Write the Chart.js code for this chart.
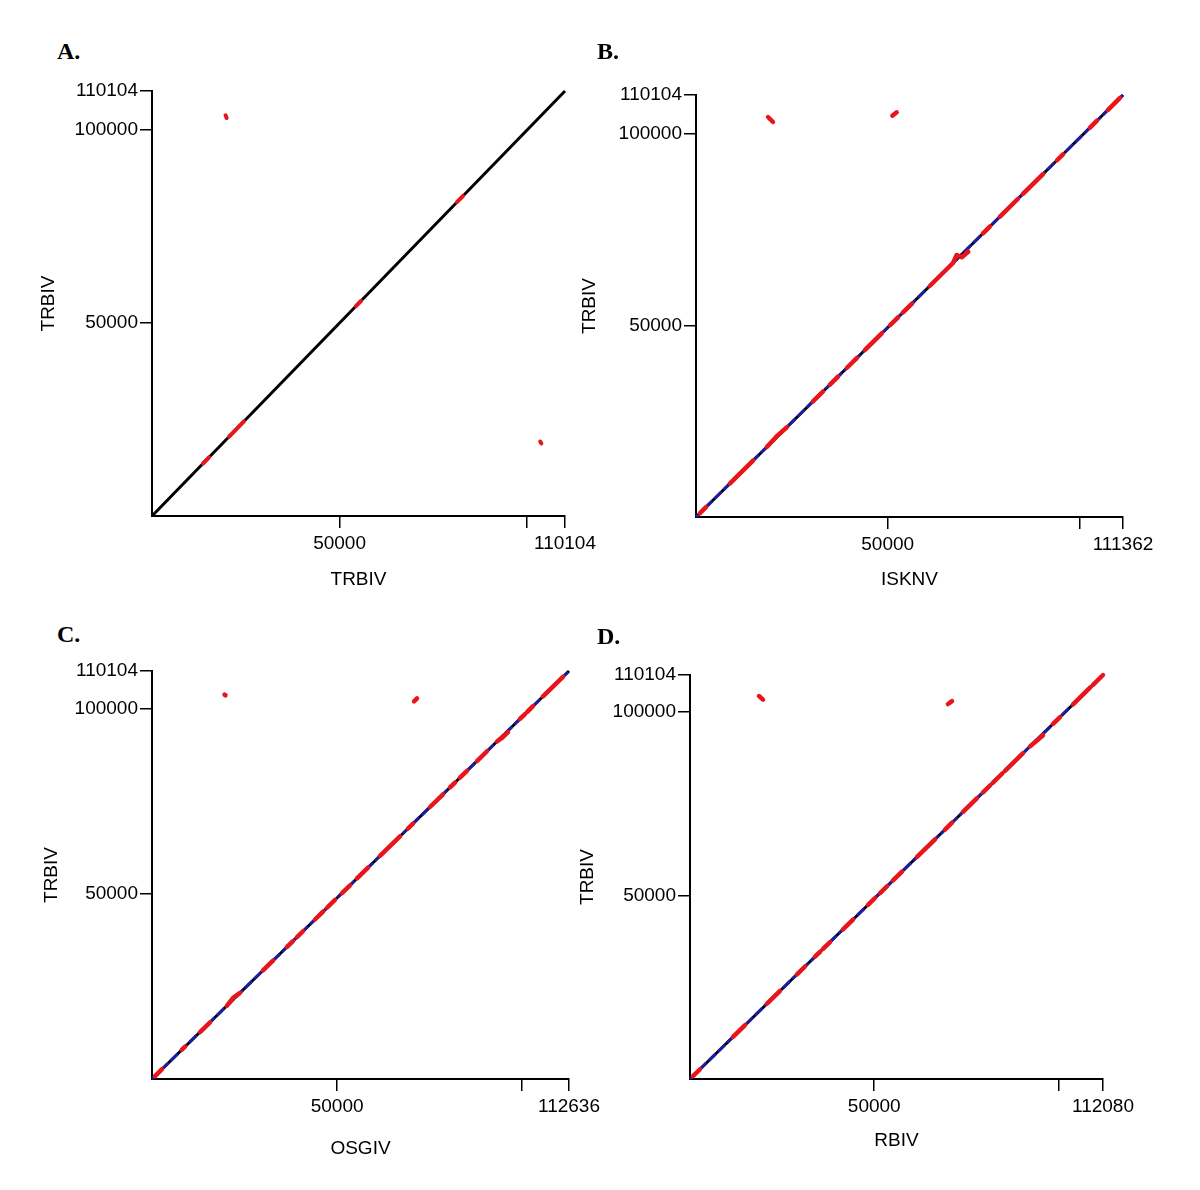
<!DOCTYPE html>
<html>
<head>
<meta charset="utf-8">
<script src="https://cdn.jsdelivr.net/npm/chart.js@4/dist/chart.umd.min.js"></script>
<style>
  html, body { margin:0; padding:0; background:#fff; }
  #root { position:relative; width:1200px; height:1190px; overflow:hidden; }
  canvas { position:absolute; }
  .lbl { position:absolute; font-family:"Liberation Serif","Times New Roman",serif; font-weight:bold; font-size:24px; line-height:24px; color:#000; }
</style>
</head>
<body>
<div id="root"></div>
<script>
// ---------------- data ----------------
const panelIds = ['A.', 'B.', 'C.', 'D.'];
const yName = 'TRBIV';
const xNames = ['TRBIV', 'ISKNV', 'OSGIV', 'RBIV'];
const yMax = 110104;
const xMaxes = [110104, 111362, 112636, 112080];
const yTickValues = [50000, 100000, 110104];
const yTickLabels = ['50000', '100000', '110104'];
const xTickValuesA = [50000, 100000, 110104];
const xTickValuesB = [50000, 100000, 111362];
const xTickValuesC = [50000, 100000, 112636];
const xTickValuesD = [50000, 100000, 112080];
const xTickLabelsA = ['50000', '', '110104'];
const xTickLabelsB = ['50000', '', '111362'];
const xTickLabelsC = ['50000', '', '112636'];
const xTickLabelsD = ['50000', '', '112080'];

// red matching segments (polylines of [x, y])
const redA = [
  [[13600,13600],[15200,15200]],
  [[20500,20500],[24500,24500]],
  [[54400,54400],[55700,55700]],
  [[81300,81300],[82900,82900]],
  [[19600,103800],[19900,103100]],
  [[103500,19300],[103800,18800]]
];
const redB = [
  [[1040,1030],[2600,2570]],
  [[8870,8770],[14870,14700]],
  [[18520,18310],[21000,21000],[23730,23460]],
  [[30510,30170],[33120,32750]],
  [[34950,34550],[37030,36610]],
  [[39380,38940],[41990,41510]],
  [[44080,43580],[48510,47960]],
  [[50600,50030],[52680,52090]],
  [[53990,53380],[56330,55690]],
  [[61030,60340],[67030,66270],[68000,68360],[69300,67760],[71000,69220]],
  [[74850,74000],[76680,75810]],
  [[79280,78380],[83980,83030]],
  [[85280,84320],[90500,89480]],
  [[94150,93080],[95710,94630]],
  [[102760,101600],[104580,103400]],
  [[107450,106230],[110580,109330]],
  [[18780,104360],[20080,103060]],
  [[51200,104700],[52340,105590]]
];
const redC = [
  [[810,790],[2700,2640]],
  [[8100,7920],[8910,8710]],
  [[12960,12670],[15670,15310]],
  [[20260,19800],[21900,21900],[23770,23230]],
  [[29980,29310],[32680,31950]],
  [[36460,35640],[38080,37220]],
  [[39160,38280],[40780,39870]],
  [[44030,43040],[46190,45150]],
  [[47270,46210],[49430,48320]],
  [[51320,50170],[53480,52280]],
  [[55370,54120],[58340,57030]],
  [[61580,60200],[66980,65480]],
  [[69150,67600],[70500,68910]],
  [[75090,73400],[78600,76830]],
  [[80490,78680],[81840,80000]],
  [[83190,81320],[85080,83170]],
  [[87780,85810],[90480,88450]],
  [[93180,91080],[94700,92200],[96160,93600]],
  [[99400,97170],[100750,98480]],
  [[101290,99010],[102910,100600]],
  [[105610,103230],[111010,108510]],
  [[19600,103700],[19850,103550]],
  [[70770,101890],[71580,102700]]
];
const redD = [
  [[810,800],[2710,2660]],
  [[11670,11460],[14930,14670]],
  [[20900,20530],[24430,24000]],
  [[29040,28530],[31210,30660]],
  [[33930,33330],[35280,34660]],
  [[36100,35460],[38000,37330]],
  [[41520,40790],[44240,43460]],
  [[48310,47460],[50210,49330]],
  [[51570,50660],[53470,52530]],
  [[55090,54120],[57540,56530]],
  [[61610,60530],[66490,65320]],
  [[69210,67990],[71110,69860]],
  [[74090,72790],[77890,76520]],
  [[79520,78120],[81420,79990]],
  [[82230,80780],[84680,83190]],
  [[85490,83990],[90380,88790]],
  [[92280,90650],[94000,92100],[95800,93700]],
  [[98520,96790],[100420,98650]],
  [[103950,102120],[108560,106650]],
  [[109370,107440],[112080,110100]],
  [[18730,104370],[19810,103410]],
  [[70020,102190],[71110,103000]]
];

// ---------------- layout (pixels) ----------------
const layouts = [
  { area:{L:152,T:91,R:565,B:516},  yTitleX:49,  xTitleY:580,  letter:{x:57,y:39},  dashed:false, redW:4 },
  { area:{L:696,T:95,R:1123,B:517}, yTitleX:590, xTitleY:580,  letter:{x:597,y:39}, dashed:true,  redW:4.5 },
  { area:{L:152,T:671,R:569,B:1079},yTitleX:52,  xTitleY:1149, letter:{x:57,y:622}, dashed:true,  redW:4.5 },
  { area:{L:690,T:675,R:1103,B:1079},yTitleX:588,xTitleY:1141, letter:{x:597,y:624},dashed:true,  redW:4.5 }
];
const xTickValues = [xTickValuesA, xTickValuesB, xTickValuesC, xTickValuesD];
const xTickLabels = [xTickLabelsA, xTickLabelsB, xTickLabelsC, xTickLabelsD];
const reds = [redA, redB, redC, redD];

const FONT = { family: '"Liberation Sans", Arial, sans-serif', size: 19 };
const LH = 19 * 1.2;
const root = document.getElementById('root');

function toGapData(polys) {
  const out = [];
  polys.forEach(p => {
    p.forEach(pt => out.push({ x: pt[0], y: pt[1] }));
    out.push({ x: p[p.length - 1][0], y: null });
  });
  return out;
}

layouts.forEach((lay, i) => {
  const a = lay.area;
  const cl = a.L - 130, ct = a.T - 80;
  const cw = a.R - cl + 50, ch = lay.xTitleY + 20 - ct;

  const lbl = document.createElement('div');
  lbl.className = 'lbl';
  lbl.style.left = lay.letter.x + 'px';
  lbl.style.top = lay.letter.y + 'px';
  lbl.textContent = panelIds[i];
  root.appendChild(lbl);

  const cv = document.createElement('canvas');
  cv.width = cw; cv.height = ch;
  cv.style.left = cl + 'px'; cv.style.top = ct + 'px';
  cv.style.width = cw + 'px'; cv.style.height = ch + 'px';
  root.appendChild(cv);

  const xMax = xMaxes[i];
  const diag = [{ x: 0, y: 0 }, { x: xMax, y: yMax }];
  const datasets = [
    { data: toGapData(reds[i]), showLine: true, borderColor: '#e8151b', borderWidth: lay.redW,
      borderCapStyle: 'round', borderJoinStyle: 'round', pointRadius: 0, spanGaps: false, clip: false }
  ];
  if (lay.dashed) {
    datasets.push({ data: diag, showLine: true, borderColor: '#1c1ca6', borderWidth: 3,
      borderDash: [10, 3], pointRadius: 0, clip: false });
  }
  datasets.push({ data: diag, showLine: true, borderColor: '#000000', borderWidth: 3,
    pointRadius: 0, clip: false });

  const xt = xTickValues[i], xl = xTickLabels[i];
  new Chart(cv, {
    type: 'scatter',
    data: { datasets },
    options: {
      responsive: false,
      animation: false,
      events: [],
      layout: { padding: { left: 0, top: a.T - ct, right: cl + cw - a.R, bottom: 0 } },
      plugins: { legend: { display: false }, tooltip: { enabled: false } },
      scales: {
        x: {
          type: 'linear', min: 0, max: xMax,
          afterFit: s => { s.height = ct + ch - a.B; },
          afterBuildTicks: s => { s.ticks = xt.map(v => ({ value: v })); },
          border: { display: true, color: '#000', width: 2 },
          grid: { display: true, drawOnChartArea: false, drawTicks: true, tickLength: 12, color: '#000', lineWidth: 1.5 },
          ticks: { autoSkip: false, maxRotation: 0, minRotation: 0, padding: 4, color: '#000', font: FONT,
                   callback: (v, idx) => xl[idx] },
          title: { display: true, text: xNames[i], color: '#000', font: FONT,
                   padding: { top: 0, bottom: 20 - LH / 2 } }
        },
        y: {
          type: 'linear', min: 0, max: yMax,
          afterFit: s => { s.width = a.L - cl; },
          afterBuildTicks: s => { s.ticks = yTickValues.map(v => ({ value: v })); },
          border: { display: true, color: '#000', width: 2 },
          grid: { display: true, drawOnChartArea: false, drawTicks: true, tickLength: 12, color: '#000', lineWidth: 1.5 },
          ticks: { autoSkip: false, padding: 2, color: '#000', font: FONT,
                   callback: (v, idx) => yTickLabels[idx] },
          title: { display: true, text: yName, color: '#000', font: FONT,
                   padding: { top: lay.yTitleX - cl - LH / 2, bottom: 0 } }
        }
      }
    }
  });
});
</script>
</body>
</html>
